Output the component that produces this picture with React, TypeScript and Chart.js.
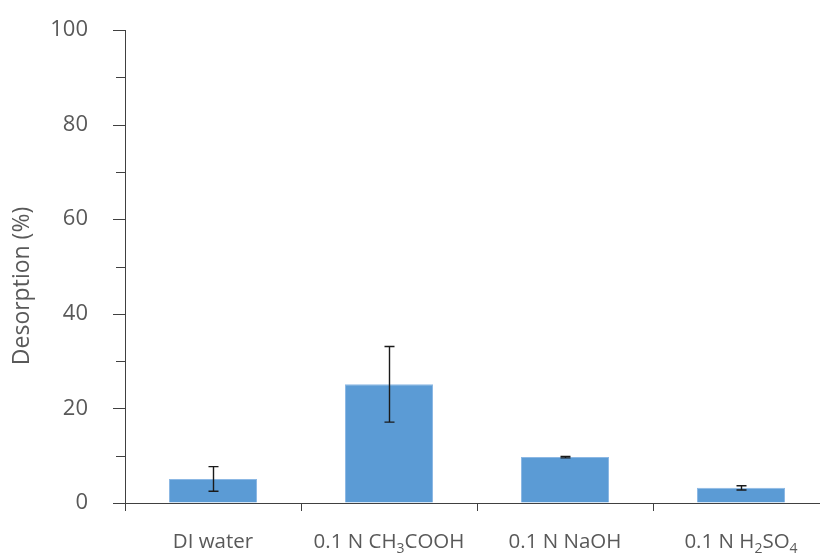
import React, { useEffect, useRef } from "react";
import { Chart, registerables } from "chart.js";

Chart.register(...registerables);

// Treatment solutions (subscript digits are rendered as true subscripts)
const categories = ["DI water", "0.1 N CH₃COOH", "0.1 N NaOH", "0.1 N H₂SO₄"];
// Mean desorption (%) and standard deviation for each solution
const desorption = [5.1, 25.1, 9.7, 3.2];
const deviation = [2.6, 8.0, 0.15, 0.45];
// Axis range and tick spacing
const yMin = 0;
const yMax = 100;
const yMajorStep = 20;
const yMinorStep = 10;
const yTitle = "Desorption (%)";

const FONT = "'Open Sans', 'Noto Sans', sans-serif";
const TEXT_COLOR = "#595959";
const AXIS_COLOR = "#404040";

const SUBS: Record<string, string> = {
  "₀": "0", "₁": "1", "₂": "2", "₃": "3", "₄": "4",
  "₅": "5", "₆": "6", "₇": "7", "₈": "8", "₉": "9",
};

// Split a label into normal / subscript runs
function splitRuns(label: string) {
  const runs: { text: string; sub: boolean }[] = [];
  for (const ch of label) {
    const sub = ch in SUBS;
    const t = sub ? SUBS[ch] : ch;
    const last = runs[runs.length - 1];
    if (last && last.sub === sub) last.text += t;
    else runs.push({ text: t, sub });
  }
  return runs;
}

const decorations = {
  id: "decorations",
  afterDraw(chart: any) {
    const { ctx, chartArea, scales } = chart;
    const xs = scales.x;
    const ys = scales.y;
    ctx.save();

    // y-axis tick marks: long at labelled values, short in between
    ctx.strokeStyle = AXIS_COLOR;
    ctx.lineWidth = 1;
    for (let v = yMin; v <= yMax; v += yMinorStep) {
      const len = v % yMajorStep === 0 ? 12 : 9;
      const y = Math.round(ys.getPixelForValue(v)) + 0.5;
      ctx.beginPath();
      ctx.moveTo(chartArea.left - len, y);
      ctx.lineTo(chartArea.left, y);
      ctx.stroke();
    }

    // x-axis tick marks between categories
    const half = (xs.getPixelForValue(1) - xs.getPixelForValue(0)) / 2;
    for (let i = 0; i <= categories.length; i++) {
      const x = Math.round(xs.getPixelForValue(i) - half) + 0.5;
      ctx.beginPath();
      ctx.moveTo(x, chartArea.bottom);
      ctx.lineTo(x, chartArea.bottom + 8);
      ctx.stroke();
    }

    // error bars
    ctx.strokeStyle = "#1a1a1a";
    ctx.lineWidth = 1.4;
    desorption.forEach((v, i) => {
      const x = Math.round(xs.getPixelForValue(i)) + 0.5;
      const yt = ys.getPixelForValue(v + deviation[i]);
      const yb = ys.getPixelForValue(v - deviation[i]);
      ctx.beginPath();
      ctx.moveTo(x, yt);
      ctx.lineTo(x, yb);
      ctx.moveTo(x - 5, yt);
      ctx.lineTo(x + 5, yt);
      ctx.moveTo(x - 5, yb);
      ctx.lineTo(x + 5, yb);
      ctx.stroke();
    });

    // category labels with subscripts
    ctx.fillStyle = TEXT_COLOR;
    ctx.textBaseline = "alphabetic";
    ctx.textAlign = "left";
    const mainFont = `20.5px ${FONT}`;
    const subFont = `14px ${FONT}`;
    const baseY = chartArea.bottom + 45;
    categories.forEach((label, i) => {
      const runs = splitRuns(label);
      let width = 0;
      runs.forEach((r) => {
        ctx.font = r.sub ? subFont : mainFont;
        width += ctx.measureText(r.text).width;
      });
      let x = xs.getPixelForValue(i) - width / 2;
      runs.forEach((r) => {
        ctx.font = r.sub ? subFont : mainFont;
        ctx.fillText(r.text, x, r.sub ? baseY + 5 : baseY);
        x += ctx.measureText(r.text).width;
      });
    });

    // y-axis title
    ctx.font = `23px ${FONT}`;
    ctx.textAlign = "center";
    ctx.textBaseline = "middle";
    ctx.translate(22, 286);
    ctx.rotate(-Math.PI / 2);
    ctx.fillText(yTitle, 0, 0);
    ctx.restore();
  },
};

export default function App() {
  const canvasRef = useRef<HTMLCanvasElement>(null);

  useEffect(() => {
    const canvas = canvasRef.current;
    if (!canvas) return;
    const chart = new Chart(canvas, {
      type: "bar",
      data: {
        labels: categories,
        datasets: [
          {
            data: desorption,
            backgroundColor: "#5B9BD5",
            borderColor: "#8CB8E4",
            borderWidth: 1,
            categoryPercentage: 1,
            barPercentage: 0.5,
          },
        ],
      },
      options: {
        responsive: false,
        animation: false,
        devicePixelRatio: 1,
        layout: { padding: { top: 30, right: 11, bottom: 0, left: 0 } },
        plugins: {
          legend: { display: false },
          tooltip: { enabled: false },
        },
        scales: {
          x: {
            grid: { display: false },
            border: { display: true, color: AXIS_COLOR, width: 1 },
            ticks: { display: false },
            afterFit: (s: any) => {
              s.height = 50;
            },
          },
          y: {
            min: yMin,
            max: yMax,
            // invisible built-in ticks only reserve the gap before the labels
            grid: {
              drawOnChartArea: false,
              drawTicks: true,
              tickLength: 37,
              tickColor: "rgba(0,0,0,0)",
            },
            border: { display: true, color: AXIS_COLOR, width: 1 },
            ticks: {
              stepSize: yMajorStep,
              padding: 0,
              color: TEXT_COLOR,
              font: { family: FONT, size: 22 },
            },
            afterFit: (s: any) => {
              s.width = 125;
            },
          },
        },
      },
      plugins: [decorations],
    });
    return () => chart.destroy();
  }, []);

  return (
    <div
      style={{
        position: "fixed",
        left: 0,
        top: 0,
        width: 820,
        height: 553,
        overflow: "hidden",
        background: "#fff",
      }}
    >
      <canvas ref={canvasRef} width={840} height={553} style={{ width: 840, height: 553 }} />
    </div>
  );
}
